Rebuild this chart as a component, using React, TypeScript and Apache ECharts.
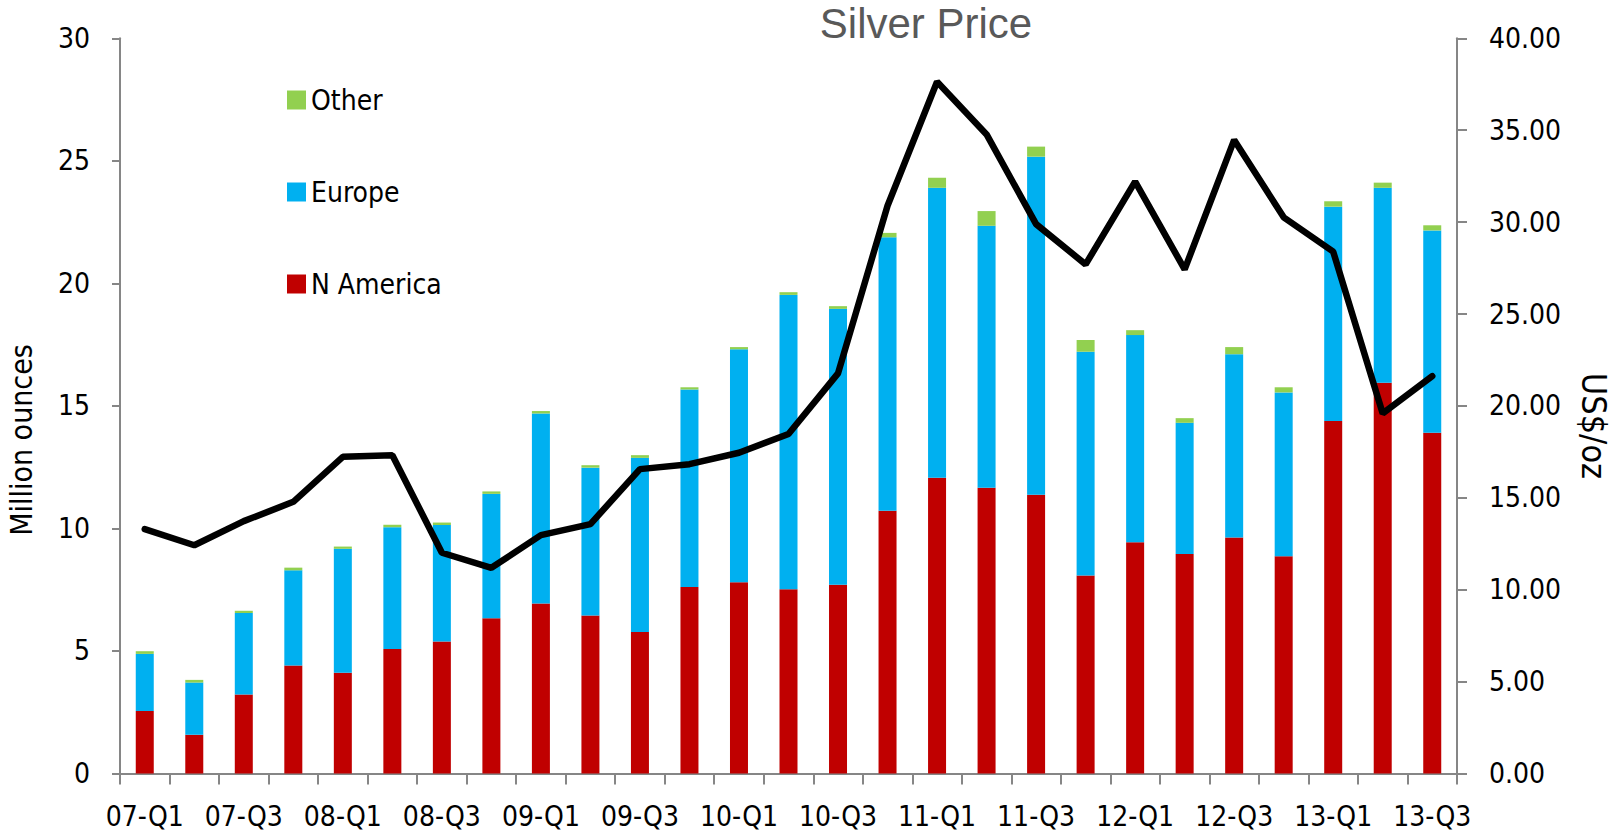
import React, { useEffect, useRef } from "react";
import * as echarts from "echarts";

// Quarterly silver demand by region (million ounces) and the silver price (US$/oz)
const categories = [
  "07-Q1", "07-Q2", "07-Q3", "07-Q4",
  "08-Q1", "08-Q2", "08-Q3", "08-Q4",
  "09-Q1", "09-Q2", "09-Q3", "09-Q4",
  "10-Q1", "10-Q2", "10-Q3", "10-Q4",
  "11-Q1", "11-Q2", "11-Q3", "11-Q4",
  "12-Q1", "12-Q2", "12-Q3", "12-Q4",
  "13-Q1", "13-Q2", "13-Q3",
];

const nAmerica = [
  2.55, 1.58, 3.22, 4.41, 4.11, 5.08, 5.39, 6.34, 6.94, 6.45, 5.77, 7.61, 7.8, 7.52,
  7.7, 10.72, 12.07, 11.66, 11.37, 8.08, 9.44, 8.96, 9.63, 8.86, 14.38, 15.94, 13.9,
];

const europe = [
  2.33, 2.13, 3.33, 3.88, 5.06, 4.97, 4.75, 5.07, 7.75, 6.03, 7.11, 8.06, 9.51, 12.01,
  11.26, 11.16, 11.83, 10.69, 13.8, 9.13, 8.45, 5.35, 7.48, 6.69, 8.75, 7.96, 8.26,
];

const other = [
  0.11, 0.11, 0.09, 0.11, 0.09, 0.1, 0.1, 0.1, 0.1, 0.1, 0.11, 0.09, 0.09, 0.11,
  0.11, 0.18, 0.41, 0.6, 0.41, 0.48, 0.2, 0.19, 0.29, 0.21, 0.22, 0.21, 0.21,
];

const silverPrice = [
  13.3, 12.42, 13.73, 14.78, 17.23, 17.32, 12.01, 11.19, 12.97, 13.57, 16.56, 16.83,
  17.45, 18.47, 21.77, 30.89, 37.64, 34.77, 29.89, 27.7, 32.2, 27.43, 34.47, 30.26,
  28.39, 19.59, 21.62,
];

const FONT = '"DejaVu Sans Condensed", "DejaVu Sans", sans-serif';
const AXIS_GREY = "#868686";

export default function App() {
  const ref = useRef<HTMLDivElement>(null);

  useEffect(() => {
    document.body.style.margin = "0";
    if (!ref.current) return;
    const chart = echarts.init(ref.current, undefined, { renderer: "svg" });

    const axisLine = { show: true, lineStyle: { color: AXIS_GREY, width: 2 } };

    chart.setOption({
      animation: false,
      grid: { left: 120, right: 157, top: 38.3, bottom: 63.5, containLabel: false },
      legend: {
        data: ["Other", "Europe", "N America"],
        orient: "vertical",
        left: 287,
        top: 86,
        padding: 0,
        itemWidth: 19,
        itemHeight: 19,
        itemGap: 64,
        icon: "rect",
        selectedMode: false,
        textStyle: { fontFamily: FONT, fontSize: 28, color: "#000" },
      },
      xAxis: {
        type: "category",
        data: categories,
        boundaryGap: true,
        axisLine,
        axisTick: {
          show: true,
          interval: 0,
          length: 11,
          lineStyle: { color: AXIS_GREY, width: 2 },
        },
        axisLabel: {
          interval: 1,
          margin: 29,
          fontFamily: FONT,
          fontSize: 28,
          color: "#000",
        },
        splitLine: { show: false },
      },
      yAxis: [
        {
          type: "value",
          position: "left",
          min: 0,
          max: 30,
          interval: 5,
          axisLine,
          axisTick: { show: true, length: 8, lineStyle: { color: AXIS_GREY, width: 2 } },
          axisLabel: { margin: 30, fontFamily: FONT, fontSize: 28, color: "#000" },
          splitLine: { show: false },
        },
        {
          type: "value",
          position: "right",
          min: 0,
          max: 40,
          interval: 5,
          axisLine,
          axisTick: { show: true, length: 10, lineStyle: { color: AXIS_GREY, width: 2 } },
          axisLabel: {
            margin: 32,
            fontFamily: FONT,
            fontSize: 28,
            color: "#000",
            formatter: (v: number) => v.toFixed(2),
          },
          splitLine: { show: false },
        },
      ],
      series: [
        {
          name: "N America",
          type: "bar",
          stack: "demand",
          data: nAmerica,
          barWidth: 18,
          itemStyle: { color: "#C00000" },
        },
        {
          name: "Europe",
          type: "bar",
          stack: "demand",
          data: europe,
          barWidth: 18,
          itemStyle: { color: "#00B0F0" },
        },
        {
          name: "Other",
          type: "bar",
          stack: "demand",
          data: other,
          barWidth: 18,
          itemStyle: { color: "#92D050" },
        },
        {
          name: "Silver Price",
          type: "line",
          yAxisIndex: 1,
          data: silverPrice,
          symbol: "none",
          showSymbol: false,
          z: 5,
          lineStyle: { color: "#000", width: 6.5, cap: "round" },
        },
      ],
      graphic: [
        {
          type: "text",
          x: 926,
          y: 23,
          style: {
            text: "Silver Price",
            font: '42px "Liberation Sans", Arial, sans-serif',
            fill: "#595959",
            align: "center",
            verticalAlign: "middle",
          },
        },
        {
          type: "text",
          x: 21,
          y: 440,
          rotation: Math.PI / 2,
          style: {
            text: "Million ounces",
            font: `30px ${FONT}`,
            fill: "#000",
            align: "center",
            verticalAlign: "middle",
          },
        },
        {
          type: "text",
          x: 1594,
          y: 426,
          rotation: -Math.PI / 2,
          style: {
            text: "US$/oz",
            font: `34px ${FONT}`,
            fill: "#000",
            align: "center",
            verticalAlign: "middle",
          },
        },
      ],
    });

    return () => chart.dispose();
  }, []);

  return <div ref={ref} style={{ width: 1614, height: 837 }} />;
}
